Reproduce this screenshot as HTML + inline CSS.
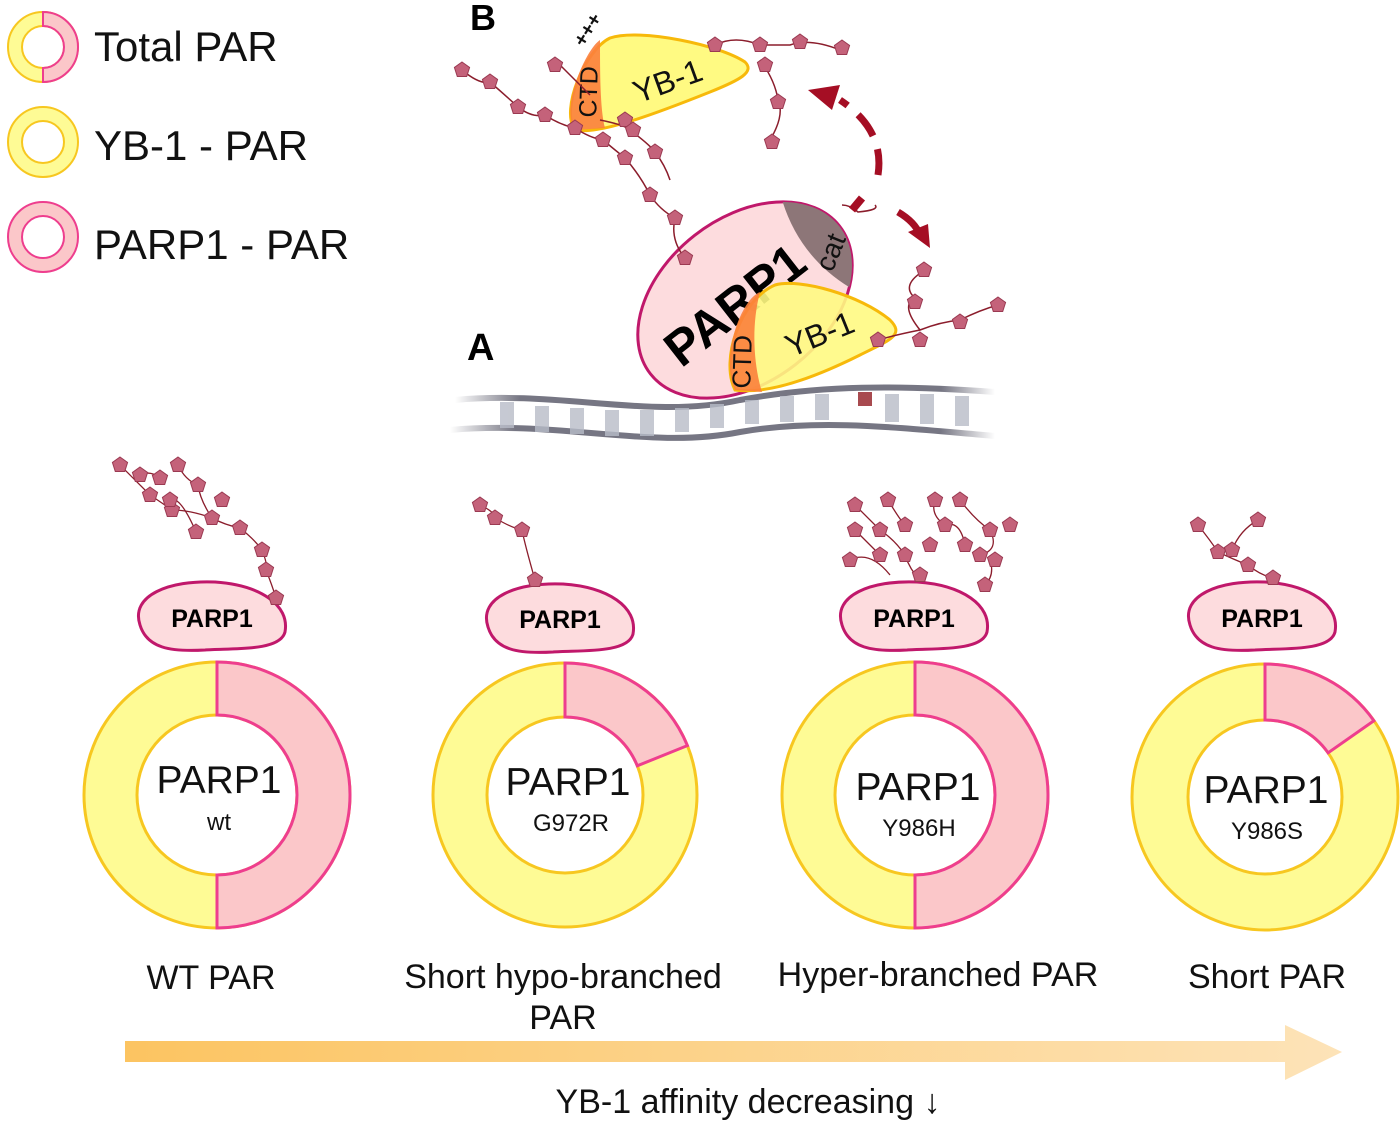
<!DOCTYPE html>
<html><head><meta charset="utf-8"><style>
html,body{margin:0;padding:0;background:#fff}
svg{display:block}
text{font-family:"Liberation Sans",Arial,sans-serif}
</style></head><body>
<svg width="1400" height="1122" viewBox="0 0 1400 1122" xmlns="http://www.w3.org/2000/svg">
<defs>
<polygon id="p" points="0,-8 7.6,-2.5 4.7,6.5 -4.7,6.5 -7.6,-2.5" fill="#c4627a" stroke="#9b3a52" stroke-width="1"/>
<linearGradient id="ag" x1="0" x2="1" y1="0" y2="0"><stop offset="0" stop-color="#fcc461"/><stop offset="1" stop-color="#fde3b8"/></linearGradient>
<linearGradient id="dna" x1="0" x2="1"><stop offset="0" stop-color="#fff"/><stop offset="0.12" stop-color="#767683"/><stop offset="0.9" stop-color="#767683"/><stop offset="1" stop-color="#fff"/></linearGradient>
</defs>

<!-- legend -->
<circle cx="43" cy="47" r="28" fill="none" stroke="#fefb95" stroke-width="14"/>
<circle cx="43" cy="47" r="35" fill="none" stroke="#f7c720" stroke-width="2"/>
<circle cx="43" cy="47" r="21" fill="none" stroke="#f7c720" stroke-width="2"/>
<path d="M43,12 A35,35 0 0 1 43,82 L43,68 A21,21 0 0 0 43,26 Z" fill="#fbc7c9" stroke="#ee3e8e" stroke-width="2"/>
<text x="94" y="61" font-size="42" fill="#111">Total PAR</text>
<circle cx="43" cy="142" r="28" fill="#ffffff" stroke="#fefb95" stroke-width="14"/>
<circle cx="43" cy="142" r="35" fill="none" stroke="#f7c720" stroke-width="2"/>
<circle cx="43" cy="142" r="21" fill="none" stroke="#f7c720" stroke-width="2"/>
<text x="94" y="160" font-size="42" fill="#111">YB-1 - PAR</text>
<circle cx="43" cy="237" r="28" fill="#ffffff" stroke="#fbc7c9" stroke-width="14"/>
<circle cx="43" cy="237" r="35" fill="none" stroke="#ee3e8e" stroke-width="2"/>
<circle cx="43" cy="237" r="21" fill="none" stroke="#ee3e8e" stroke-width="2"/>
<text x="94" y="259" font-size="42" fill="#111">PARP1 - PAR</text>

<!-- DNA -->
<path d="M455,400 C560,390 650,420 740,400 C820,385 900,385 995,392" fill="none" stroke="url(#dna)" stroke-width="6"/>
<path d="M450,430 C560,420 650,450 740,432 C820,418 900,428 995,436" fill="none" stroke="url(#dna)" stroke-width="6"/>
<g fill="#b8bcc8" opacity="0.8">
<rect x="500" y="402" width="14" height="26"/><rect x="535" y="406" width="14" height="26"/><rect x="570" y="408" width="14" height="26"/><rect x="605" y="410" width="14" height="26"/><rect x="640" y="410" width="14" height="26"/><rect x="675" y="408" width="14" height="24"/><rect x="710" y="404" width="14" height="24"/><rect x="745" y="400" width="14" height="24"/><rect x="780" y="396" width="14" height="26"/><rect x="815" y="394" width="14" height="26"/><rect x="885" y="394" width="14" height="28"/><rect x="920" y="394" width="14" height="30"/><rect x="955" y="396" width="14" height="30"/>
</g>
<rect x="858" y="392" width="14" height="14" fill="#a84a4f"/>

<!-- big PARP1 -->
<g transform="rotate(-38 745 300)">
<ellipse cx="745" cy="300" rx="120" ry="82" fill="#fddcde" stroke="#c0186b" stroke-width="3"/>
<path d="M835,246 A120,82 0 0 1 835,354 Q815,300 835,246Z" fill="#8d7678"/>
</g>
<text x="735" y="322" font-size="50" font-weight="bold" fill="#000" text-anchor="middle" transform="rotate(-38 735 305)">PARP1</text>
<text x="830" y="262" font-size="28" fill="#111" text-anchor="middle" transform="rotate(-68 830 252)">cat</text>

<!-- bottom YB-1 -->
<path d="M735,390 C720,360 740,300 775,285 C800,278 860,295 890,320 C905,335 890,340 860,355 C820,375 770,395 735,390 Z" fill="#fffa82" fill-opacity="0.9" stroke="#f7b90a" stroke-width="3"/>
<path d="M735,390 C720,360 740,300 760,292 C750,330 755,370 762,392 Z" fill="#fb7f3c" fill-opacity="0.9"/>
<text x="820" y="345" font-size="32" fill="#111" text-anchor="middle" transform="rotate(-22 820 335)">YB-1</text>
<text x="748" y="365" font-size="26" fill="#111" text-anchor="middle" transform="rotate(-88 748 362)">CTD</text>

<!-- top YB-1 -->
<path d="M575,130 C560,110 585,50 610,38 C640,28 720,45 745,62 C755,72 740,80 710,92 C660,112 600,135 575,130 Z" fill="#fffa82" stroke="#f7b90a" stroke-width="3"/>
<path d="M575,130 C560,110 585,50 600,40 C600,70 600,110 605,128 Z" fill="#fb7f3c" fill-opacity="0.9"/>
<text x="668" y="92" font-size="32" fill="#111" text-anchor="middle" transform="rotate(-20 668 82)">YB-1</text>
<text x="594" y="95" font-size="25" fill="#111" text-anchor="middle" transform="rotate(-88 594 92)">CTD</text>
<text x="584" y="48" font-size="20" font-weight="bold" fill="#111" transform="rotate(-58 584 48)">+++</text>
<text x="470" y="30" font-size="36" font-weight="bold" fill="#000">B</text>
<text x="467" y="360" font-size="38" font-weight="bold" fill="#000">A</text>

<!-- chains top -->
<g fill="none" stroke="#8b1d2c" stroke-width="1.5">
<path d="M462,70 Q480,85 490,82 Q505,95 518,107 Q532,118 545,115 Q560,125 575,128 Q590,138 603,140 Q615,150 625,158 Q640,175 650,195 Q660,210 675,218 Q670,240 685,258"/>
<path d="M560,65 Q575,80 590,95"/>
<path d="M600,120 Q625,125 630,130 Q650,145 655,152 Q665,165 670,180"/>
<path d="M715,45 Q735,35 760,45 Q775,45 790,45 Q810,38 840,50"/>
<path d="M760,60 Q775,80 778,100 Q785,115 770,140"/>
<path d="M842,205 Q850,205 858,212 Q880,210 875,205"/>
<path d="M925,270 Q900,285 915,298 Q900,305 920,330 Q940,322 960,320 Q980,310 998,305"/>
<path d="M878,340 Q895,335 920,330"/>
</g>
<g>
<use href="#p" x="462" y="70"/><use href="#p" x="490" y="82"/><use href="#p" x="518" y="107"/><use href="#p" x="545" y="115"/><use href="#p" x="575" y="128"/><use href="#p" x="603" y="140"/><use href="#p" x="625" y="158"/><use href="#p" x="650" y="195"/><use href="#p" x="675" y="218"/><use href="#p" x="685" y="258"/><use href="#p" x="555" y="65"/><use href="#p" x="625" y="120"/><use href="#p" x="655" y="152"/><use href="#p" x="633" y="130"/><use href="#p" x="715" y="45"/><use href="#p" x="760" y="45"/><use href="#p" x="800" y="42"/><use href="#p" x="842" y="48"/><use href="#p" x="765" y="65"/><use href="#p" x="778" y="102"/><use href="#p" x="772" y="142"/><use href="#p" x="924" y="270"/><use href="#p" x="915" y="302"/><use href="#p" x="920" y="340"/><use href="#p" x="960" y="322"/><use href="#p" x="998" y="305"/><use href="#p" x="878" y="340"/>
</g>
<!-- dashed arrows -->
<path d="M878,175 Q885,130 840,100" fill="none" stroke="#a50e24" stroke-width="7" stroke-dasharray="26 14"/>
<polygon points="808,90 840,85 832,110" fill="#a50e24"/>
<path d="M852,210 L862,198" stroke="#a50e24" stroke-width="8"/>
<path d="M898,212 Q915,222 920,235" fill="none" stroke="#a50e24" stroke-width="7"/>
<polygon points="930,248 908,232 928,224" fill="#a50e24"/>

<!-- small PARP1 blobs -->
<g fill="#fddcde" stroke="#c0186b" stroke-width="3">
<path d="M140,625 C130,595 170,580 215,582 C260,585 290,605 285,632 C280,652 230,648 205,650 C170,652 147,648 140,625Z"/>
<path d="M488,627 C478,597 518,582 563,584 C608,587 638,607 633,634 C628,654 578,650 553,652 C518,654 495,650 488,627Z"/>
<path d="M842,625 C832,595 872,580 917,582 C962,585 992,605 987,632 C982,652 932,648 907,650 C872,652 849,648 842,625Z"/>
<path d="M1190,625 C1180,595 1220,580 1265,582 C1310,585 1340,605 1335,632 C1330,652 1280,648 1255,650 C1220,652 1197,648 1190,625Z"/>
</g>
<g font-size="25" font-weight="bold" fill="#000" text-anchor="middle">
<text x="212" y="627">PARP1</text><text x="560" y="628">PARP1</text><text x="914" y="627">PARP1</text><text x="1262" y="627">PARP1</text>
</g>

<!-- small chains -->
<g fill="none" stroke="#8b1d2c" stroke-width="1.3">
<path d="M120,465 Q135,480 150,495 Q165,505 172,510 Q190,510 212,518 Q225,525 240,528 Q255,540 262,550 Q268,565 266,570 Q272,585 276,598"/>
<path d="M140,475 Q150,470 160,478 M178,465 Q185,480 198,485 Q200,500 212,518 M170,500 Q180,495 196,532"/>
<path d="M480,505 Q495,512 495,518 Q512,528 522,530 Q525,545 535,580"/>
<path d="M855,505 Q870,520 880,530 Q895,540 905,555 Q910,570 920,580 M850,560 Q870,550 890,575 M888,500 Q900,520 905,525 M935,500 Q930,515 945,525 Q960,520 965,545 M960,500 Q975,520 990,530 Q1000,550 980,555 M990,560 Q995,575 985,585 M855,530 Q870,545 880,555"/>
<path d="M1198,525 Q1210,540 1218,552 Q1235,560 1248,565 Q1260,575 1273,578 M1258,520 Q1240,530 1232,550"/>
</g>
<g>
<use href="#p" x="120" y="465"/><use href="#p" x="150" y="495"/><use href="#p" x="172" y="510"/><use href="#p" x="212" y="518"/><use href="#p" x="240" y="528"/><use href="#p" x="262" y="550"/><use href="#p" x="266" y="570"/><use href="#p" x="276" y="598"/><use href="#p" x="140" y="475"/><use href="#p" x="160" y="478"/><use href="#p" x="178" y="465"/><use href="#p" x="198" y="485"/><use href="#p" x="170" y="500"/><use href="#p" x="196" y="532"/><use href="#p" x="222" y="500"/>
<use href="#p" x="480" y="505"/><use href="#p" x="495" y="518"/><use href="#p" x="522" y="530"/><use href="#p" x="535" y="580"/>
<use href="#p" x="855" y="505"/><use href="#p" x="880" y="530"/><use href="#p" x="905" y="555"/><use href="#p" x="920" y="575"/><use href="#p" x="850" y="560"/><use href="#p" x="888" y="500"/><use href="#p" x="905" y="525"/><use href="#p" x="935" y="500"/><use href="#p" x="945" y="525"/><use href="#p" x="965" y="545"/><use href="#p" x="960" y="500"/><use href="#p" x="990" y="530"/><use href="#p" x="980" y="555"/><use href="#p" x="995" y="560"/><use href="#p" x="985" y="585"/><use href="#p" x="855" y="530"/><use href="#p" x="880" y="555"/><use href="#p" x="1010" y="525"/><use href="#p" x="930" y="545"/>
<use href="#p" x="1198" y="525"/><use href="#p" x="1218" y="552"/><use href="#p" x="1248" y="565"/><use href="#p" x="1273" y="578"/><use href="#p" x="1258" y="520"/><use href="#p" x="1232" y="550"/>
</g>

<!-- donuts -->
<g stroke-width="3">
<circle cx="217" cy="795" r="106.5" fill="none" stroke="#fefb95" stroke-width="53"/>
<circle cx="217" cy="795" r="133" fill="none" stroke="#f7c720"/>
<circle cx="217" cy="795" r="80" fill="#fff" stroke="#f7c720"/>
<path d="M217,662 A133,133 0 0 1 217,928 L217,875 A80,80 0 0 0 217,715 Z" fill="#fbc7c9" stroke="#ee3e8e"/>

<circle cx="565" cy="795" r="105" fill="none" stroke="#fefb95" stroke-width="54"/>
<circle cx="565" cy="795" r="132" fill="none" stroke="#f7c720"/>
<circle cx="565" cy="795" r="78" fill="#fff" stroke="#f7c720"/>
<path d="M565,663 A132,132 0 0 1 687.4,745.6 L637.3,765.8 A78,78 0 0 0 565,717 Z" fill="#fbc7c9" stroke="#ee3e8e"/>

<circle cx="915" cy="795" r="106.5" fill="none" stroke="#fefb95" stroke-width="53"/>
<circle cx="915" cy="795" r="133" fill="none" stroke="#f7c720"/>
<circle cx="915" cy="795" r="80" fill="#fff" stroke="#f7c720"/>
<path d="M915,662 A133,133 0 0 1 915,928 L915,875 A80,80 0 0 0 915,715 Z" fill="#fbc7c9" stroke="#ee3e8e"/>

<circle cx="1265" cy="797" r="105" fill="none" stroke="#fefb95" stroke-width="56"/>
<circle cx="1265" cy="797" r="133" fill="none" stroke="#f7c720"/>
<circle cx="1265" cy="797" r="77" fill="#fff" stroke="#f7c720"/>
<path d="M1265,664 A133,133 0 0 1 1373.9,720.7 L1328.1,752.8 A77,77 0 0 0 1265,720 Z" fill="#fbc7c9" stroke="#ee3e8e"/>
</g>
<g fill="#111" text-anchor="middle">
<text x="219" y="793" font-size="39">PARP1</text><text x="219" y="830" font-size="24">wt</text>
<text x="568" y="795" font-size="39">PARP1</text><text x="571" y="831" font-size="24">G972R</text>
<text x="918" y="800" font-size="39">PARP1</text><text x="919" y="836" font-size="24">Y986H</text>
<text x="1266" y="803" font-size="39">PARP1</text><text x="1267" y="839" font-size="24">Y986S</text>
</g>
<g fill="#111" text-anchor="middle" font-size="34">
<text x="211" y="989">WT PAR</text>
<text x="563" y="988">Short hypo-branched</text><text x="563" y="1029">PAR</text>
<text x="938" y="986">Hyper-branched PAR</text>
<text x="1267" y="988">Short PAR</text>
<text x="748" y="1113">YB-1 affinity decreasing ↓</text>
</g>
<polygon points="125,1041 1285,1041 1285,1025 1342,1052 1285,1080 1285,1062 125,1062" fill="url(#ag)"/>
</svg>
</body></html>
